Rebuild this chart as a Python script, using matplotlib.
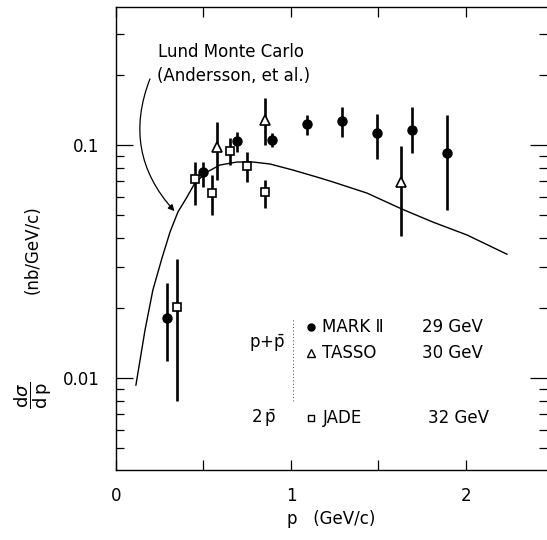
import matplotlib.pyplot as plt
from matplotlib.patches import FancyArrowPatch
from matplotlib.ticker import LogLocator, NullFormatter, FixedLocator

plt.rcParams['font.family'] = ['DejaVu Sans']
plt.rcParams['mathtext.fontset'] = 'dejavusans'

### DATA ###
# MARK II, 29 GeV (filled circles)
mark_p = [0.29, 0.50, 0.69, 0.89, 1.09, 1.29, 1.49, 1.69, 1.89]
mark_v = [0.0181, 0.0766, 0.104, 0.105, 0.123, 0.127, 0.113, 0.116, 0.0924]
mark_hi = [0.0256, 0.0846, 0.114, 0.113, 0.134, 0.146, 0.136, 0.146, 0.135]
mark_lo = [0.0118, 0.066, 0.093, 0.098, 0.110, 0.108, 0.087, 0.092, 0.0526]

# TASSO, 30 GeV (open triangles)
tasso_p = [0.58, 0.85, 1.63]
tasso_v = [0.098, 0.128, 0.0694]
tasso_hi = [0.126, 0.159, 0.099]
tasso_lo = [0.071, 0.100, 0.0407]

# JADE, 32 GeV (open squares)
jade_p = [0.35, 0.45, 0.55, 0.65, 0.75, 0.85]
jade_v = [0.0202, 0.0714, 0.0622, 0.0943, 0.0813, 0.0629]
jade_hi = [0.0324, 0.0846, 0.0744, 0.107, 0.0933, 0.0708]
jade_lo = [0.0080, 0.0553, 0.050, 0.082, 0.0694, 0.0537]

# Lund Monte Carlo curve
lund_p = [0.114, 0.166, 0.211, 0.263, 0.309, 0.354, 0.406, 0.451, 0.52, 0.594,
          0.691, 0.783, 0.88, 1.011, 1.166, 1.24, 1.434, 1.634, 1.811, 2.006, 2.234]
lund_v = [0.00933, 0.01607, 0.02388, 0.03273, 0.04234, 0.05158, 0.05981, 0.0687, 0.07657, 0.08206,
          0.08453, 0.08453, 0.0829, 0.0781, 0.0722, 0.0694, 0.0622, 0.0531, 0.0467, 0.0411, 0.034]


def errs(v, hi, lo):
    return [[a - b for a, b in zip(v, lo)], [b - a for a, b in zip(v, hi)]]


fig = plt.figure(figsize=(5.47, 5.40), dpi=100)
ax = fig.add_axes([0.212, 0.1296, 0.788, 0.8574])

ax.plot(lund_p, lund_v, color='black', lw=1.0, zorder=1)

ebkw = dict(ecolor='black', elinewidth=1.9, capsize=0, linestyle='none', zorder=2)
ax.errorbar(mark_p, mark_v, yerr=errs(mark_v, mark_hi, mark_lo), fmt='o',
            mfc='black', mec='black', ms=6.5, **ebkw)
ax.errorbar(tasso_p, tasso_v, yerr=errs(tasso_v, tasso_hi, tasso_lo), fmt='^',
            mfc='white', mec='black', mew=1.2, ms=7.5, **ebkw)
ax.errorbar(jade_p, jade_v, yerr=errs(jade_v, jade_hi, jade_lo), fmt='s',
            mfc='white', mec='black', mew=1.2, ms=5.5, **ebkw)

ax.set_yscale('log')
ax.set_xlim(0, 2.463)
ax.set_ylim(0.00403, 0.391)

ax.xaxis.set_major_locator(FixedLocator([0, 0.5, 1, 1.5, 2]))
ax.set_xticklabels(['0', '', '1', '', '2'])
ax.yaxis.set_major_locator(FixedLocator([0.01, 0.1]))
ax.set_yticklabels(['0.01', '0.1'])
ax.yaxis.set_minor_locator(LogLocator(base=10, subs=range(2, 10)))
ax.yaxis.set_minor_formatter(NullFormatter())

ax.tick_params(axis='x', which='major', direction='in', length=7, width=0.9,
               top=True, labelsize=12, pad=12)
ax.tick_params(axis='y', which='major', direction='in', length=12, width=0.9,
               right=True, labelsize=12, pad=12)
ax.tick_params(axis='y', which='minor', direction='in', length=6, width=0.9, right=True)

ax.spines['right'].set_visible(False)
for s in ['left', 'bottom', 'top']:
    ax.spines[s].set_linewidth(1.0)

ax.set_xlabel('p   (GeV/c)', fontsize=12)
# y label: fraction and units set apart as in the original lettering
ax.text(-0.193, 0.162, r'$\dfrac{\mathrm{d}\sigma}{\mathrm{d\,p}}$', fontsize=13,
        rotation=90, ha='center', va='center', transform=ax.transAxes)
ax.text(-0.193, 0.475, '(nb/GeV/c)', fontsize=12,
        rotation=90, ha='center', va='center', transform=ax.transAxes)

### ANNOTATION ###
ax.text(0.66, 0.25, 'Lund Monte Carlo', fontsize=12, ha='center', va='center')
ax.text(0.67, 0.198, '(Andersson, et al.)', fontsize=12, ha='center', va='center')
arrow = FancyArrowPatch((0.2, 0.197), (0.345, 0.051), transform=ax.transData,
                        connectionstyle='arc3,rad=0.32', arrowstyle='-|>',
                        mutation_scale=9, lw=0.9, color='black')
ax.add_patch(arrow)

### LEGEND ###
ax.text(0.863, 0.01412, r'p+$\bar{\mathrm{p}}$', fontsize=12, ha='center', va='center')
ax.text(0.84, 0.00673, r'2$\,\bar{\mathrm{p}}$', fontsize=12, ha='center', va='center')
ax.plot([1.011, 1.011], [0.0178, 0.0079], color='black', lw=0.6, ls=(0, (1, 3)))
leg_y = [0.01655, 0.0128, 0.00673]
ax.plot(1.114, leg_y[0], 'o', color='black', ms=5)
ax.plot(1.114, leg_y[1], '^', mfc='white', mec='black', mew=1.0, ms=5.5)
ax.plot(1.114, leg_y[2], 's', mfc='white', mec='black', mew=1.0, ms=4.2)
ax.text(1.18, leg_y[0], 'MARK Ⅱ', fontsize=12, va='center')
ax.text(1.18, leg_y[1], 'TASSO', fontsize=12, va='center')
ax.text(1.18, leg_y[2], 'JADE', fontsize=12, va='center')
ax.text(1.75, leg_y[0], '29 GeV', fontsize=12, va='center')
ax.text(1.75, leg_y[1], '30 GeV', fontsize=12, va='center')
ax.text(1.783, leg_y[2], '32 GeV', fontsize=12, va='center')

plt.savefig('out.png', dpi=100)
